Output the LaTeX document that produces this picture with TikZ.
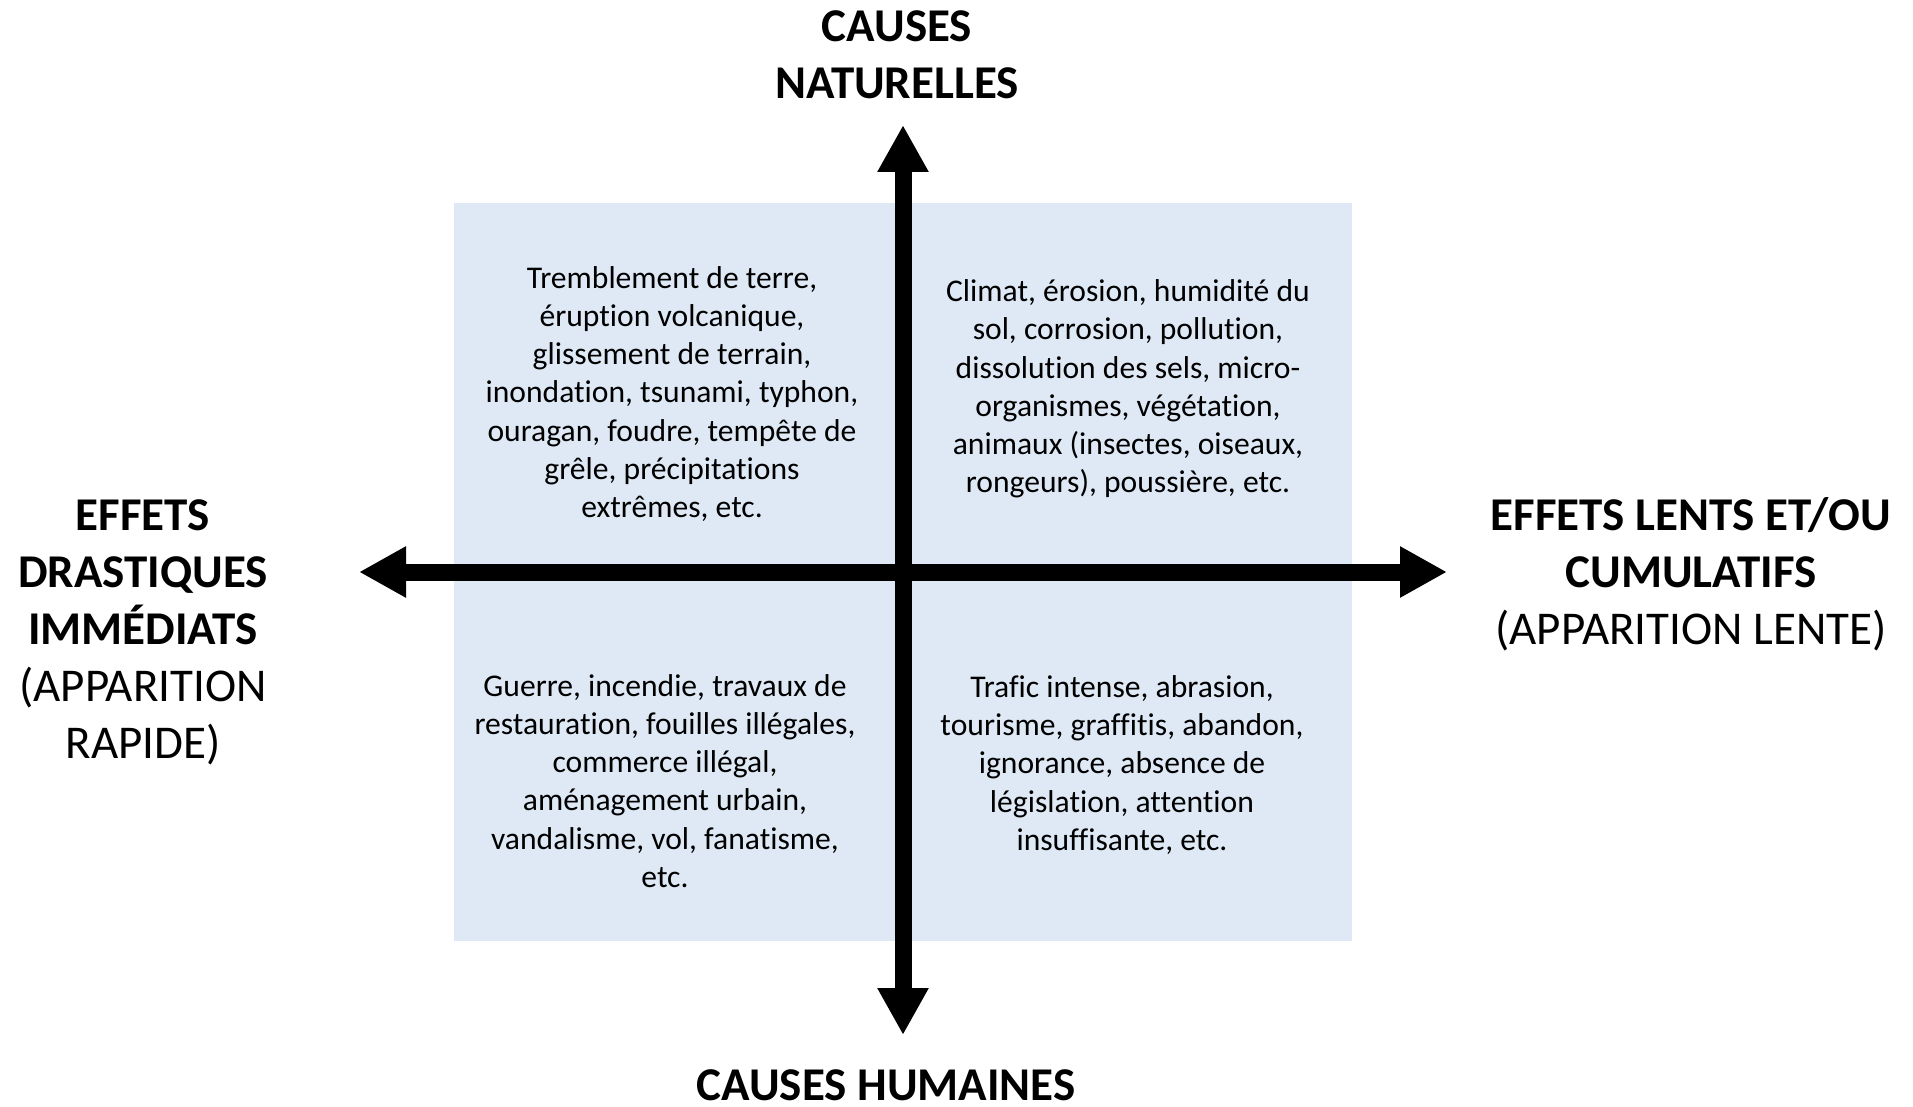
\documentclass[tikz,border=0pt]{standalone}
\usepackage{fontspec}
\setmainfont[RawFeature={-liga;-clig;-dlig;-calt;-rlig;-hlig}]{Carlito}
\usetikzlibrary{arrows.meta}
\definecolor{quadblue}{RGB}{222,233,245}
\tikzset{
  body/.style={align=center, inner sep=0pt, font=\fontsize{31.6}{38.2}\selectfont},
  head/.style={align=center, inner sep=0pt, font=\fontsize{47}{57}\selectfont},
  axis/.style={line width=17pt, -{Triangle[width=48pt,length=47pt]}},
}
\begin{document}
\begin{tikzpicture}[x=1pt,y=-1pt]
\useasboundingbox (0,0) rectangle (1913,1107);
\fill[quadblue] (454,203) rectangle (1352,941);
\coordinate (c) at (903,572);
\coordinate (top) at (903,125);
\coordinate (bot) at (903,1035);
\coordinate (lft) at (359,572);
\coordinate (rgt) at (1447,572);
\draw[axis] (c) -- (top);
\draw[axis] (c) -- (bot);
\draw[axis] (c) -- (lft);
\draw[axis] (c) -- (rgt);
\node[head, font=\fontsize{47}{57}\selectfont\bfseries] (nat) at (897,55) {CAUSES\\NATURELLES};
\node[head, font=\fontsize{47}{57}\selectfont\bfseries] (hum) at (886,1085) {CAUSES HUMAINES};
\node[head] (left) at (143,632) {\textbf{EFFETS}\\\textbf{DRASTIQUES}\\\textbf{IMMÉDIATS}\\(APPARITION\\RAPIDE)};
\node[head] (right) at (1691,574) {\textbf{EFFETS LENTS ET/OU}\\\textbf{CUMULATIFS}\\(APPARITION LENTE)};
\node[body] (tl) at (672,394) {Tremblement de terre,\\éruption volcanique,\\glissement de terrain,\\inondation, tsunami, typhon,\\ouragan, foudre, tempête de\\grêle, précipitations\\extrêmes, etc.};
\node[body] (tr) at (1128,389) {Climat, érosion, humidité du\\sol, corrosion, pollution,\\dissolution des sels, micro-\\organismes, végétation,\\animaux (insectes, oiseaux,\\rongeurs), poussière, etc.};
\node[body] (bl) at (665,781) {Guerre, incendie, travaux de\\restauration, fouilles illégales,\\commerce illégal,\\aménagement urbain,\\vandalisme, vol, fanatisme,\\etc.};
\node[body] (br) at (1122,765) {Trafic intense, abrasion,\\tourisme, graffitis, abandon,\\ignorance, absence de\\législation, attention\\insuffisante, etc.};
\end{tikzpicture}
\end{document}
